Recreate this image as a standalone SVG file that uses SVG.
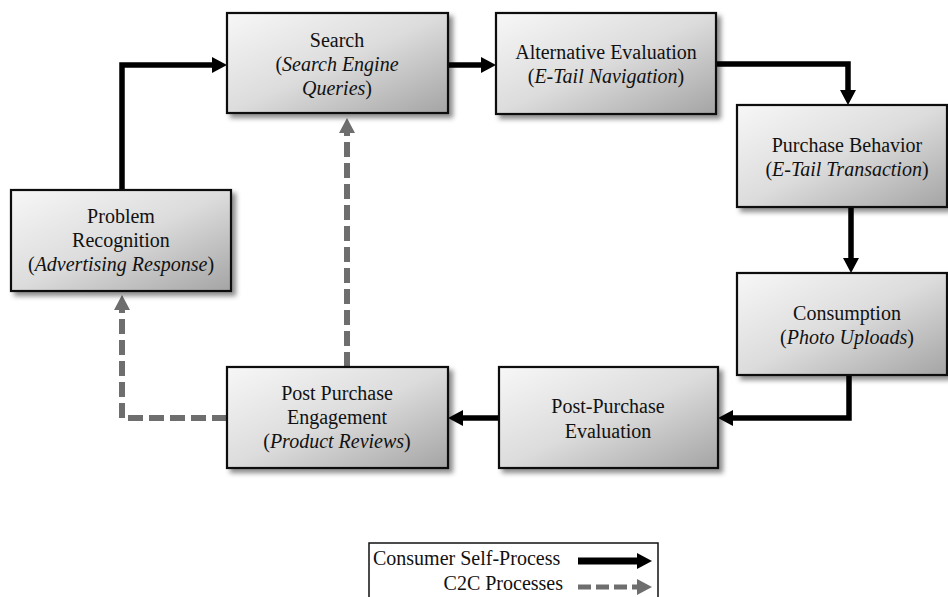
<svg xmlns="http://www.w3.org/2000/svg" width="948" height="597" viewBox="0 0 948 597">
<style>
.box{fill:url(#g);stroke:#111;stroke-width:2.2;filter:url(#sh)}
text{font-family:'Liberation Serif','DejaVu Serif','Times New Roman',serif;font-size:20px;fill:#111;text-anchor:middle}
.i{font-style:italic}
.solid{fill:none;stroke:#000;stroke-width:5.5;stroke-linejoin:miter;marker-end:url(#ab)}
.dash{fill:none;stroke:#6e6e6e;stroke-width:6;stroke-dasharray:15 6;stroke-linejoin:miter;marker-end:url(#ag)}
</style>
<defs>
<linearGradient id="g" x1="0" y1="0" x2="1" y2="1">
<stop offset="0" stop-color="#f7f7f7"/>
<stop offset="0.5" stop-color="#dcdcdc"/>
<stop offset="1" stop-color="#a4a4a4"/>
</linearGradient>
<filter id="sh" x="-10%" y="-10%" width="125%" height="130%">
<feDropShadow dx="4" dy="4" stdDeviation="2.5" flood-color="#000" flood-opacity="0.45"/>
</filter>
<marker id="ab" markerUnits="userSpaceOnUse" markerWidth="17" markerHeight="17" refX="5" refY="8" orient="auto" overflow="visible">
<path d="M0,0 L15,8 L0,16 Z" fill="#000"/>
</marker>
<marker id="ag" markerUnits="userSpaceOnUse" markerWidth="17" markerHeight="17" refX="5" refY="8" orient="auto" overflow="visible">
<path d="M0,0 L15,8 L0,16 Z" fill="#6e6e6e"/>
</marker>
</defs>
<rect width="948" height="597" fill="#fff"/>
<g id="connectors">
<path class="solid" d="M122,190 V65 H217"/>
<path class="solid" d="M448,65 H486"/>
<path class="solid" d="M716,64 H848 V95"/>
<path class="solid" d="M851,207 V263"/>
<path class="solid" d="M849,375 V418 H728"/>
<path class="solid" d="M499,418 H458"/>
<path class="dash" d="M347,367 V128"/>
<path class="dash" d="M227,418 H122 V305"/>
</g>
<g id="search">
<rect class="box" x="227" y="13" width="221" height="100"/>
<text x="337" y="47">Search</text>
<text x="337" y="71">(<tspan class="i">Search Engine</tspan></text>
<text x="337" y="95"><tspan class="i">Queries</tspan>)</text>
</g>
<g id="problem">
<rect class="box" x="11" y="190" width="220" height="101"/>
<text x="121" y="223">Problem</text>
<text x="121" y="247">Recognition</text>
<text x="121" y="271">(<tspan class="i">Advertising Response</tspan>)</text>
</g>
<g id="alternative">
<rect class="box" x="496" y="13" width="220" height="101"/>
<text x="606" y="59">Alternative Evaluation</text>
<text x="606" y="83">(<tspan class="i">E-Tail Navigation</tspan>)</text>
</g>
<g id="purchase">
<rect class="box" x="737" y="105" width="210" height="102"/>
<text x="847" y="152">Purchase Behavior</text>
<text x="847" y="176">(<tspan class="i">E-Tail Transaction</tspan>)</text>
</g>
<g id="consumption">
<rect class="box" x="737" y="273" width="210" height="102"/>
<text x="847" y="320">Consumption</text>
<text x="847" y="344">(<tspan class="i">Photo Uploads</tspan>)</text>
</g>
<g id="postpurchase">
<rect class="box" x="499" y="367" width="219" height="101"/>
<text x="608" y="413">Post-Purchase</text>
<text x="608" y="438">Evaluation</text>
</g>
<g id="engagement">
<rect class="box" x="227" y="367" width="221" height="101"/>
<text x="337" y="400">Post Purchase</text>
<text x="337" y="424">Engagement</text>
<text x="337" y="448">(<tspan class="i">Product Reviews</tspan>)</text>
</g>
<g id="legend">
<rect x="369" y="543" width="289" height="60" fill="#fff" stroke="#111" stroke-width="1.5"/>
<text x="373" y="565" style="text-anchor:start">Consumer  Self-Process</text>
<text x="563" y="590" style="text-anchor:end">C2C Processes</text>
<path class="solid" d="M578,561 H642" style="stroke-width:7"/>
<path class="dash" d="M578,587 H642" style="stroke-dasharray:13 5;stroke-width:5"/>
</g>
</svg>
